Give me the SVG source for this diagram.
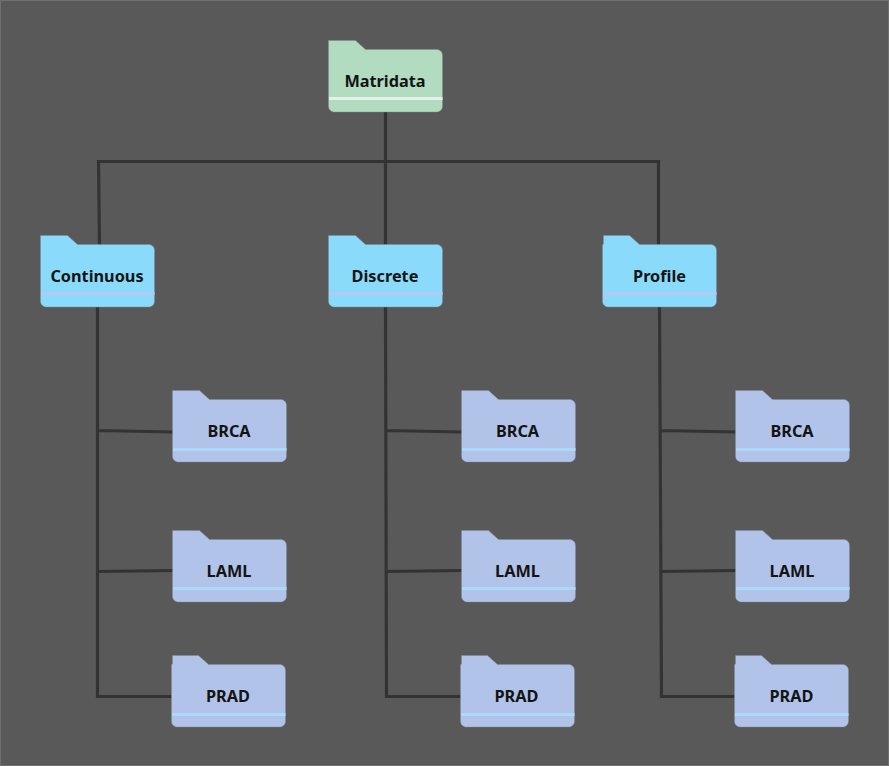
<svg xmlns="http://www.w3.org/2000/svg" width="889" height="766" viewBox="0 0 889 766">
<style>
.bg{fill:#595959;stroke:#707070;stroke-width:1}
.c{fill:none;stroke:#333333;stroke-width:3.200}
.f{stroke:#7f8a96;stroke-opacity:.55;stroke-width:.8}
.g{fill:#b1dcc0}.b{fill:#8adbfb}.p{fill:#b2c3ea}
.gs{stroke:#e6f0ea}.bs{stroke:#b7c8f0}.ps{stroke:#abd9f7}
.s{stroke-width:3;fill:none}
text{font-family:"Noto Sans","Open Sans","Liberation Sans",sans-serif;font-weight:700;font-size:16.300px;fill:#141414;text-anchor:middle}
</style>
<defs>
<path id="folder" d="M0.500 0H27.500L37.500 9H108.500C112 9 114.500 11.500 114.500 15V65.500C114.500 69 112 71.500 108.500 71.500H6.500C3 71.500 .5 69 .5 65.500Z"/>
<path id="folder2" d="M1.500 0H27.500L37.500 9H108.500C112 9 114.500 11.500 114.500 15V65.500C114.500 69 112 71.500 108.500 71.500H6.500C3 71.500 .5 69 .5 65.500V9.500L1.500 8Z"/>
</defs>
<rect class="bg" x="0.500" y="0.500" width="888" height="765"/>
<g id="connectors">
<path class="c" d="M385.500 111V245M99.500 245L98.500 161.500H658.500V245"/>
<path class="c" d="M97.500 306V696.500H172M98 430.500L173 432M98 571.500L173 570.500"/>
<path class="c" d="M385.500 306L386.500 696.500H461M386 430.500L462 432M386 571.500L462 570.500"/>
<path class="c" d="M659.500 306L661.500 696.500H735M661 430.500L736 432M661 571.500L736 570.500"/>
</g>
<g id="matridata"><use href="#folder" x="328" y="40.500" class="f g"/><path class="s gs" d="M329 98.500H442.500"/><text x="385" y="87">Matridata</text></g>
<g id="continuous"><use href="#folder" x="40" y="235.500" class="f b"/><path class="s bs" d="M41 293.500H154.500"/><text x="97" y="282">Continuous</text></g>
<g id="discrete"><use href="#folder" x="328" y="235.500" class="f b"/><path class="s bs" d="M329 293.500H442.500"/><text x="385" y="282">Discrete</text></g>
<g id="profile"><use href="#folder2" x="602" y="235.500" class="f b"/><path class="s bs" d="M603 293.500H716.500"/><text x="659.500" y="282">Profile</text></g>
<g id="continuous-brca"><use href="#folder" x="172" y="390.500" class="f p"/><path class="s ps" d="M173 449.500H286.500"/><text x="229" y="437">BRCA</text></g>
<g id="continuous-laml"><use href="#folder" x="172" y="530.500" class="f p"/><path class="s ps" d="M173 588.500H286.500"/><text x="229" y="577">LAML</text></g>
<g id="continuous-prad"><use href="#folder2" x="171" y="655.500" class="f p"/><path class="s ps" d="M172 714.500H285.500"/><text x="228" y="702">PRAD</text></g>
<g id="discrete-brca"><use href="#folder" x="461" y="390.500" class="f p"/><path class="s ps" d="M462 449.500H575.500"/><text x="517.500" y="437">BRCA</text></g>
<g id="discrete-laml"><use href="#folder" x="461" y="530.500" class="f p"/><path class="s ps" d="M462 588.500H575.500"/><text x="517.500" y="577">LAML</text></g>
<g id="discrete-prad"><use href="#folder2" x="460" y="655.500" class="f p"/><path class="s ps" d="M461 714.500H574.500"/><text x="516.500" y="702">PRAD</text></g>
<g id="profile-brca"><use href="#folder" x="735" y="390.500" class="f p"/><path class="s ps" d="M736 449.500H849.500"/><text x="792" y="437">BRCA</text></g>
<g id="profile-laml"><use href="#folder" x="735" y="530.500" class="f p"/><path class="s ps" d="M736 588.500H849.500"/><text x="792" y="577">LAML</text></g>
<g id="profile-prad"><use href="#folder2" x="734" y="655.500" class="f p"/><path class="s ps" d="M735 714.500H848.500"/><text x="791.500" y="702">PRAD</text></g>
</svg>
